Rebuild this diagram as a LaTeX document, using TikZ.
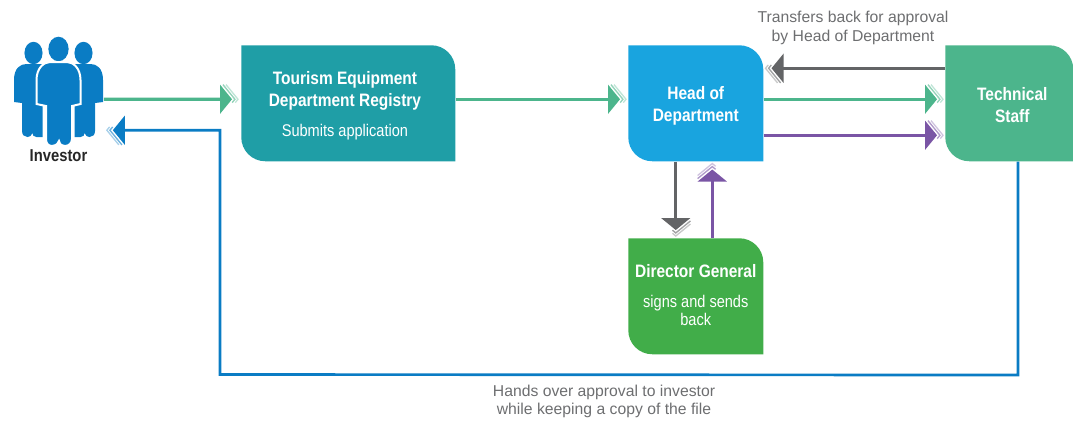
\documentclass[tikz,border=0pt]{standalone}
\usepackage{fontspec}
\setmainfont[FakeStretch=0.86]{Liberation Sans}
\newfontfamily\captionfont{Liberation Sans}
\usetikzlibrary{decorations.markings,calc}
\definecolor{registryteal}{HTML}{1F9EA6}
\definecolor{headblue}{HTML}{19A4DF}
\definecolor{staffgreen}{HTML}{4CB58C}
\definecolor{directorgreen}{HTML}{41AD49}
\definecolor{flowpurple}{HTML}{7A55A5}
\definecolor{flowgrey}{HTML}{636466}
\definecolor{flowblue}{HTML}{0A7CC4}
\definecolor{captiongrey}{HTML}{6D6E70}
\newcommand{\cornerrad}{18pt}
\newcommand{\boxnote}{\fontsize{12.7}{13.5}\selectfont}
\newcommand{\toppad}{\rule{0pt}{13pt}}
\tikzstyle{flow_box}=[rectangle, anchor=north west, minimum height=87pt, inner sep=0pt, align=center, text=white, font=\fontsize{13.5}{16.5}\selectfont]
% fills the node with two round corners, top right and bottom left
\tikzstyle{flow_fill}=[path picture={
    \fill[#1] (path picture bounding box.north west)
        -- ($(path picture bounding box.north east)+(-\cornerrad,0)$) arc (90:0:\cornerrad)
        -- (path picture bounding box.south east)
        -- ($(path picture bounding box.south west)+(\cornerrad,0)$) arc (270:180:\cornerrad)
        -- cycle;
}]
\tikzstyle{flow_caption}=[align=center, inner sep=0pt, text=captiongrey, font=\captionfont\fontsize{11.8}{13.8}\selectfont]
\tikzset{
    flow_tip/.style={draw=#1, line width=2.4pt, shorten >=11pt,
        postaction={decorate,decoration={markings,mark=at position 1 with {
            \fill[#1] (-13.5pt,11pt) -- (-4.5pt,0pt) -- (-13.5pt,-11pt) -- cycle;
            \draw[#1!60,line width=1pt] (-11.3pt,11pt) -- (-2.3pt,0pt) -- (-11.3pt,-11pt);
            \draw[#1!35,line width=1pt] (-9pt,11pt) -- (0pt,0pt) -- (-9pt,-11pt);
        }}}}
}
\begin{document}
\begin{tikzpicture}[x=.75pt,y=-.75pt]

    \useasboundingbox (0,0) rectangle (1073,421);

    % Investor
    \node[minimum width=67pt,minimum height=82pt,inner sep=0pt,anchor=north west] (icon) at (14,37) {};
    \node[inner sep=0pt,font=\bfseries\fontsize{12.9}{15}\selectfont,text=black!85] (investor) at (58.5,155.5) {Investor};
    \foreach \flip in {1,-1} {
        \begin{scope}[shift={(58.5,0)},xscale=\flip]
            \fill[flowblue] (-25,53) ellipse [x radius=6.8pt,y radius=8.4pt];
            \fill[flowblue] (-44.5,80) .. controls (-44.5,68) and (-38,64) .. (-32,64) -- (-16,64) -- (-16,137)
                -- (-22,137) .. controls (-25,137) and (-26,135) .. (-26,133) .. controls (-27,136) and (-29,137) .. (-31,137)
                .. controls (-34,137) and (-36.5,135) .. (-36.5,131) -- (-36.5,103) -- (-44.5,102) -- cycle;
        \end{scope}
    }
    \fill[flowblue] (58.5,49) ellipse [x radius=7.6pt,y radius=9.2pt];
    \draw[white,fill=flowblue,line width=1.5pt] (36.5,80) .. controls (36.5,68) and (44,62) .. (50,62) -- (67,62)
        .. controls (73,62) and (80.5,68) .. (80.5,80) -- (80.5,104) -- (72,106) -- (72,139)
        .. controls (72,143) and (69,146) .. (65,146) .. controls (62,146) and (60,145) .. (59,141)
        .. controls (57,145) and (55,146) .. (52,146) .. controls (48,146) and (46,143) .. (46,139)
        -- (46,106) -- (36.5,104) -- cycle;

    % Boxes
    \node[flow_box,flow_fill=registryteal,minimum width=160.5pt] (registry) at (241,45) {\hspace*{-5pt}\toppad\textbf{Tourism Equipment}\\\hspace*{-5pt}\textbf{Department Registry}\\[6pt]\hspace*{-5pt}\boxnote Submits application};
    \node[flow_box,flow_fill=headblue,minimum width=101.25pt] (head) at (628,45) {\toppad\textbf{Head of}\\\textbf{Department}};
    \node[flow_box,flow_fill=staffgreen,minimum width=96pt] (staff) at (945,45) {\hspace*{4.5pt}\toppad\textbf{Technical}\\\hspace*{4.5pt}\textbf{Staff}};
    \node[flow_box,flow_fill=directorgreen,minimum width=101.25pt] (director) at (628,238) {\textbf{Director General}\\[6pt]\boxnote signs and sends\\[-3pt]\boxnote back\rule[-1.5pt]{0pt}{1.5pt}};

    % Captions
    \node[flow_caption] (transfers) at (853,28) {Transfers back for approval\\by Head of Department};
    \node[flow_caption] (hands) at (604,401.5) {Hands over approval to investor\\while keeping a copy of the file};

    % Top row
    \draw[flow_tip=staffgreen] ($(icon.east)+(0,7.3)$) -- ($(registry.west)+(-3,-4)$);
    \draw[flow_tip=staffgreen] ($(registry.east)+(0,-4)$) -- ($(head.west)+(-2,-4)$);
    \draw[flow_tip=staffgreen] ($(head.east)+(0,-4)$) -- ($(staff.west)+(-2,-4)$);
    \draw[flow_tip=flowpurple] ($(head.east)+(0,32)$) -- ($(staff.west)+(-2,32)$);
    \draw[flow_tip=flowgrey] ($(staff.west)+(0,-35)$) -- ($(head.east)+(2,-35)$);

    % Head of Department and Director General
    \draw[flow_tip=flowgrey] ($(head.south)+(-20,0)$) -- ($(director.north)+(-20,-2)$);
    \draw[flow_tip=flowpurple] ($(director.north)+(16.5,0)$) -- ($(head.south)+(16.5,2)$);

    % Back to the investor
    \coordinate (return_right) at ($(staff.south west)+(73,213.5)$);
    \coordinate (return_left) at (220,374.5);
    \coordinate (return_tip) at ($(icon.east)+(3,38.3)$);
    \draw[flow_tip=flowblue,line width=2pt,line join=miter] ($(staff.south west)+(73,0)$) -- (return_right) -- (return_left) -- (return_left |- return_tip) -- (return_tip);

\end{tikzpicture}
\end{document}
